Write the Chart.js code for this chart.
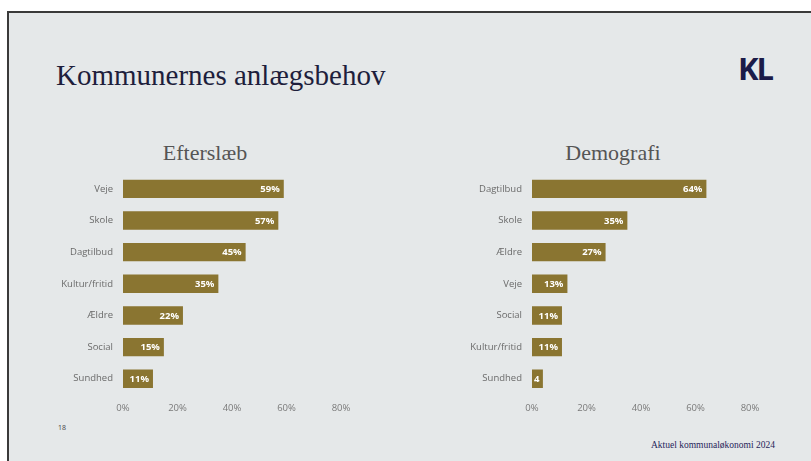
<!DOCTYPE html>
<html>
<head>
<meta charset="utf-8">
<script src="https://cdn.jsdelivr.net/npm/chart.js@4/dist/chart.umd.min.js"></script>
<style>
  html, body { margin: 0; padding: 0; background: #fff; }
  body { width: 811px; height: 461px; position: relative; overflow: hidden; font-family: "Open Sans", sans-serif; }
  #slide { position: absolute; left: 7px; top: 11px; width: 810px; height: 460px;
           background: #e5e8e9; border-left: 2px solid #3a3a3a; border-top: 2px solid #3a3a3a; }
  .t { position: absolute; white-space: nowrap; }
  #title { left: 47px; top: 46px; font: 29px "Liberation Serif", serif; color: #1e1e3c; }
  #logo { left: 729px; top: 34px; font: bold 31px "Open Sans", sans-serif; color: #1b1b48; letter-spacing: -2px; }
  #page { left: 49px; top: 410px; font: 7px "Open Sans", sans-serif; color: #444; }
  #src { left: 642px; top: 427px; font: 9.5px "Liberation Serif", serif; color: #25255a; }
  .sub { position: absolute; top: 140px; width: 200px; text-align: center; font: 22px "Liberation Serif", serif; color: #555; }
  canvas { position: absolute; }
</style>
</head>
<body>
<div id="slide">
  <div class="t" id="title">Kommunernes anlægsbehov</div>
  <div class="t" id="logo">KL</div>
  <div class="t" id="page">18</div>
  <div class="t" id="src">Aktuel kommunaløkonomi 2024</div>
</div>
<div class="sub" id="sub1" style="left:105px"></div>
<div class="sub" id="sub2" style="left:513px"></div>
<canvas id="c1" style="left:33px;top:161px;width:330px;height:253px"></canvas>
<canvas id="c2" style="left:442px;top:161px;width:330px;height:253px"></canvas>
<script>
const leftTitle = 'Efterslæb';
const leftCategories = ['Veje', 'Skole', 'Dagtilbud', 'Kultur/fritid', 'Ældre', 'Social', 'Sundhed'];
const leftValues = [59, 57, 45, 35, 22, 15, 11];

const rightTitle = 'Demografi';
const rightCategories = ['Dagtilbud', 'Skole', 'Ældre', 'Veje', 'Social', 'Kultur/fritid', 'Sundhed'];
const rightValues = [64, 35, 27, 13, 11, 11, 4];

const tickValues = [0, 20, 40, 60, 80];

const barColor = '#8a7531';

document.getElementById('sub1').textContent = leftTitle;
document.getElementById('sub2').textContent = rightTitle;

// white value labels at the bar end; if the bar is too short only the number is shown
const barLabels = {
  id: 'barLabels',
  afterDatasetsDraw(chart) {
    const ctx = chart.ctx;
    const meta = chart.getDatasetMeta(0);
    ctx.save();
    ctx.font = 'bold 9.5px "Open Sans", sans-serif';
    ctx.fillStyle = '#ffffff';
    ctx.textBaseline = 'middle';
    meta.data.forEach((bar, i) => {
      const v = chart.data.datasets[0].data[i];
      const left = bar.base, right = bar.x, h = bar.height;
      let txt = v + '%';
      ctx.save();
      ctx.beginPath();
      ctx.rect(left, bar.y - h / 2, right - left, h);
      ctx.clip();
      if (ctx.measureText(txt).width + 6 < right - left) {
        ctx.textAlign = 'right';
        ctx.fillText(txt, right - 4, bar.y + 0.5);
      } else {
        ctx.textAlign = 'left';
        ctx.fillText(String(v), left + 2, bar.y + 0.5);
      }
      ctx.restore();
    });
    ctx.restore();
  }
};

function makeChart(id, cats, vals) {
  return new Chart(document.getElementById(id), {
    type: 'bar',
    data: {
      labels: cats,
      datasets: [{ data: vals, backgroundColor: barColor, categoryPercentage: 1, barPercentage: 0.58 }]
    },
    options: {
      indexAxis: 'y',
      responsive: false,
      animation: false,
      layout: { padding: { right: 22, bottom: 0, top: 12, left: 0 } },
      plugins: {
        legend: { display: false },
        tooltip: { enabled: false }
      },
      scales: {
        x: {
          min: 0, max: 80,
          afterBuildTicks: (s) => { s.ticks = tickValues.map(v => ({ value: v })); },
          ticks: { callback: v => v + '%', color: '#7a7a7a', font: { size: 9.5, family: '"Open Sans", sans-serif' }, padding: 0 },
          grid: { display: false },
          border: { display: false }
        },
        y: {
          afterFit: (s) => { s.width = 90; },
          ticks: { color: '#6a6a6a', font: { size: 9.5, family: '"Open Sans", sans-serif' }, padding: 2 },
          grid: { display: false },
          border: { display: false }
        }
      }
    },
    plugins: [barLabels]
  });
}

makeChart('c1', leftCategories, leftValues);
makeChart('c2', rightCategories, rightValues);
</script>
</body>
</html>
